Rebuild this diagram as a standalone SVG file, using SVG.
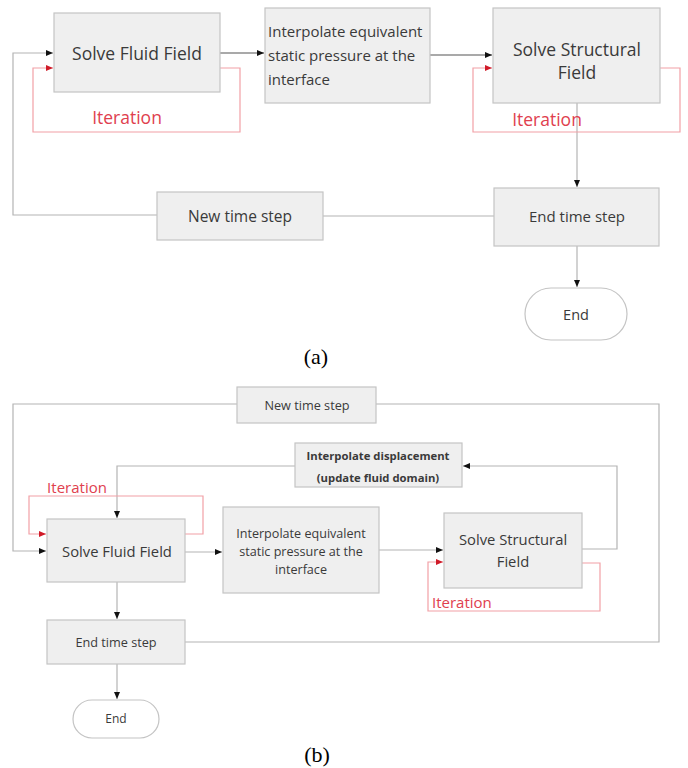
<svg xmlns="http://www.w3.org/2000/svg" width="688" height="768" viewBox="0 0 688 768">
<style>
.box{fill:#efefef;stroke:#c4c4c4;stroke-width:1.2}
.oval{fill:#ffffff;stroke:#c4c4c4;stroke-width:1.2}
.t{font-family:"Open Sans","Liberation Sans",sans-serif;fill:#3a3a3a}
.c{text-anchor:middle}
.red{font-family:"Open Sans","Liberation Sans",sans-serif;fill:#e0404e}
.ln{fill:none;stroke:#b4b4b4;stroke-width:1.2}
.dk{fill:none;stroke:#555555;stroke-width:1.2}
.rl{fill:none;stroke:#f2a0a6;stroke-width:1.2}
.cap{font-family:"Liberation Serif","Times New Roman",serif;fill:#000;font-size:22px;text-anchor:middle}
</style>
<defs>
<marker id="ab" markerUnits="userSpaceOnUse" markerWidth="8" markerHeight="8" refX="7" refY="4" orient="auto">
<path d="M0,1 L7,4 L0,7 Z" fill="#111"/>
</marker>
<marker id="ar" markerUnits="userSpaceOnUse" markerWidth="8" markerHeight="8" refX="7" refY="4" orient="auto">
<path d="M0,1 L7,4 L0,7 Z" fill="#d01a28"/>
</marker>
</defs>

<g id="connectors">
<!-- (a) -->
<path class="ln" d="M157,215 H13 V53 H53" marker-end="url(#ab)"/>
<path class="ln" d="M494,216 H323"/>
<path class="dk" d="M220,53 H264" marker-end="url(#ab)"/>
<path class="dk" d="M430,55 H492" marker-end="url(#ab)"/>
<path class="ln" d="M577,103 V187" marker-end="url(#ab)"/>
<path class="ln" d="M577,246 V287" marker-end="url(#ab)"/>
<path class="rl" d="M220,68 H240 V132 H33 V68 H53" marker-end="url(#ar)"/>
<path class="rl" d="M660,68 H680 V132 H473 V68 H492" marker-end="url(#ar)"/>
<!-- (b) -->
<path class="ln" d="M185,642 H659 V404 H376"/>
<path class="ln" d="M237,404 H13 V551 H46" marker-end="url(#ab)"/>
<path class="ln" d="M185,552 H222" marker-end="url(#ab)"/>
<path class="ln" d="M379,550 H443" marker-end="url(#ab)"/>
<path class="ln" d="M582,549 H617 V466 H463" marker-end="url(#ab)"/>
<path class="ln" d="M295,466 H117 V518" marker-end="url(#ab)"/>
<path class="ln" d="M117,582 V619" marker-end="url(#ab)"/>
<path class="ln" d="M117,664 V699" marker-end="url(#ab)"/>
<path class="rl" d="M185,534 H203 V496 H29 V534 H46" marker-end="url(#ar)"/>
<path class="rl" d="M582,563 H600 V611 H428 V562 H443" marker-end="url(#ar)"/>
</g>

<g id="a-solve-fluid">
<rect class="box" x="54" y="13" width="166" height="79"/>
<text class="t c" x="137" y="60" font-size="17.5">Solve Fluid Field</text>
</g>
<g id="a-iteration-fluid">
<text class="red c" x="127" y="124" font-size="17.5">Iteration</text>
</g>
<g id="a-interp-pressure">
<rect class="box" x="265" y="8" width="165" height="95"/>
<text class="t" x="268" y="37" font-size="15">Interpolate equivalent</text>
<text class="t" x="268" y="61" font-size="15">static pressure at the</text>
<text class="t" x="268" y="85" font-size="15">interface</text>
</g>
<g id="a-solve-structural">
<rect class="box" x="493" y="8" width="167" height="95"/>
<text class="t c" x="577" y="56" font-size="17.5">Solve Structural</text>
<text class="t c" x="577" y="79" font-size="17.5">Field</text>
</g>
<g id="a-iteration-structural">
<text class="red c" x="547" y="126" font-size="17.5">Iteration</text>
</g>
<g id="a-end-time-step">
<rect class="box" x="494" y="188" width="165" height="58"/>
<text class="t c" x="577" y="222" font-size="15">End time step</text>
</g>
<g id="a-new-time-step">
<rect class="box" x="157" y="192" width="166" height="48"/>
<text class="t c" x="240" y="222" font-size="15.5">New time step</text>
</g>
<g id="a-end">
<rect class="oval" x="525" y="288" width="102" height="52" rx="26"/>
<text class="t c" x="576" y="320" font-size="14.5">End</text>
</g>
<text class="cap" x="316" y="364">(a)</text>

<g id="b-new-time-step">
<rect class="box" x="237" y="387" width="139" height="36"/>
<text class="t c" x="307" y="410" font-size="12.7">New time step</text>
</g>
<g id="b-interp-displacement">
<rect class="box" x="295" y="443" width="167" height="44"/>
<text class="t c" x="378" y="460" font-size="11.3" font-weight="bold">Interpolate displacement</text>
<text class="t c" x="378" y="482" font-size="11.3" font-weight="bold">(update fluid domain)</text>
</g>
<g id="b-solve-fluid">
<rect class="box" x="47" y="519" width="138" height="63"/>
<text class="t c" x="117" y="557" font-size="14.8">Solve Fluid Field</text>
</g>
<g id="b-iteration-fluid">
<text class="red c" x="77" y="493" font-size="15">Iteration</text>
</g>
<g id="b-interp-pressure">
<rect class="box" x="223" y="507" width="156" height="86"/>
<text class="t c" x="301" y="538" font-size="12.6">Interpolate equivalent</text>
<text class="t c" x="301" y="556" font-size="12.6">static pressure at the</text>
<text class="t c" x="301" y="574" font-size="12.6">interface</text>
</g>
<g id="b-solve-structural">
<rect class="box" x="444" y="513" width="138" height="75"/>
<text class="t c" x="513" y="545" font-size="14.8">Solve Structural</text>
<text class="t c" x="513" y="567" font-size="14.8">Field</text>
</g>
<g id="b-iteration-structural">
<text class="red" x="432" y="608" font-size="15">Iteration</text>
</g>
<g id="b-end-time-step">
<rect class="box" x="47" y="620" width="138" height="44"/>
<text class="t c" x="116" y="647" font-size="12.7">End time step</text>
</g>
<g id="b-end">
<rect class="oval" x="73" y="700" width="86" height="38" rx="19"/>
<text class="t c" x="116" y="723" font-size="12">End</text>
</g>
<text class="cap" x="317" y="762">(b)</text>
</svg>
